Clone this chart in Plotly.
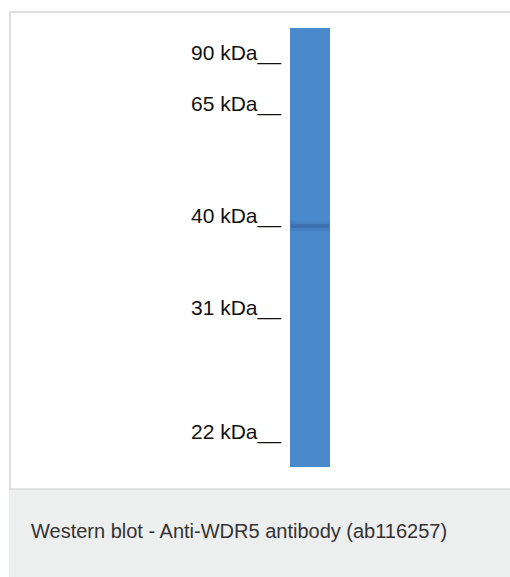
import plotly.graph_objects as go

# ---- data (read from the blot) ----
lane_names = ["WDR5 lysate"]
marker_kda = [90, 65, 40, 31, 22]
marker_labels = ["90 kDa__", "65 kDa__", "40 kDa__", "31 kDa__", "22 kDa__"]
# relative migration (0 = top of lane, 1 = bottom of lane)
marker_migration = [0.056, 0.173, 0.428, 0.638, 0.920]
band_migration = [0.451]
band_thickness = [0.009]
lane_length = [1.0]
caption = "Western blot - Anti-WDR5 antibody (ab116257)"

# ---- layout constants (screen pixels) ----
W, H = 510, 577
LANE_TOP, LANE_LEN = 28, 439
LANE_CX, LANE_W = 310, 40
LABEL_RIGHT = 283
CAP_TOP = 489

y_range = [(H - LANE_TOP) / LANE_LEN, -LANE_TOP / LANE_LEN]
x_range = [(0 - LANE_CX) / LANE_W, (W - LANE_CX) / LANE_W]  # lane at x=0, width 1


def px(x):
    return x / W


def py(y):
    return 1 - y / H


fig = go.Figure()

# lane
fig.add_trace(go.Bar(
    x=[0], y=lane_length, base=[0], width=[1],
    marker=dict(color="#4b89cd", line=dict(width=0)),
    hoverinfo="skip", showlegend=False, name=lane_names[0],
))
# band halo
fig.add_trace(go.Bar(
    x=[0], y=[t * 2.6 for t in band_thickness],
    base=[m - t * 1.3 for m, t in zip(band_migration, band_thickness)],
    width=[1],
    marker=dict(color="rgba(45,85,140,0.16)", line=dict(width=0)),
    hoverinfo="skip", showlegend=False,
))
# band core
fig.add_trace(go.Bar(
    x=[0], y=band_thickness,
    base=[m - t / 2 for m, t in zip(band_migration, band_thickness)],
    width=[0.94],
    marker=dict(color="rgba(45,80,130,0.33)", line=dict(width=0)),
    hoverinfo="skip", showlegend=False,
))

annotations = []
for lab, m in zip(marker_labels, marker_migration):
    annotations.append(dict(
        x=(LABEL_RIGHT - LANE_CX) / LANE_W, y=m, xref="x", yref="y",
        text=lab, showarrow=False, xanchor="right", yanchor="middle",
        font=dict(family="Liberation Sans, Arial", size=21, color="#111111"),
    ))
annotations.append(dict(
    x=px(29), y=py(531), xref="paper", yref="paper", text=caption,
    showarrow=False, xanchor="left", yanchor="middle",
    font=dict(family="Liberation Sans, Arial", size=20, color="#333333"),
))

shapes = [
    dict(type="rect", xref="paper", yref="paper", x0=px(9), x1=1.0,
         y0=0, y1=py(CAP_TOP), fillcolor="#edeeee", line=dict(width=0), layer="above"),
    dict(type="line", xref="paper", yref="paper", x0=px(9), x1=1.0,
         y0=py(CAP_TOP), y1=py(CAP_TOP), line=dict(color="#dddddd", width=1.5), layer="above"),
    dict(type="line", xref="paper", yref="paper", x0=px(10), x1=px(10),
         y0=py(11), y1=py(CAP_TOP), line=dict(color="#dddddd", width=2), layer="above"),
    dict(type="line", xref="paper", yref="paper", x0=px(9), x1=1.0,
         y0=py(12), y1=py(12), line=dict(color="#dddddd", width=2), layer="above"),
]

fig.update_layout(
    width=W, height=H, margin=dict(l=0, r=0, t=0, b=0),
    paper_bgcolor="white", plot_bgcolor="rgba(0,0,0,0)",
    barmode="overlay", bargap=0,
    xaxis=dict(range=x_range, visible=False, fixedrange=True),
    yaxis=dict(range=y_range, visible=False, fixedrange=True),
    annotations=annotations, shapes=shapes, showlegend=False,
)

fig.write_html(
    "out.html",
    config={"displayModeBar": False},
    post_script="document.body.style.margin='0';document.body.style.overflow='hidden';",
)
